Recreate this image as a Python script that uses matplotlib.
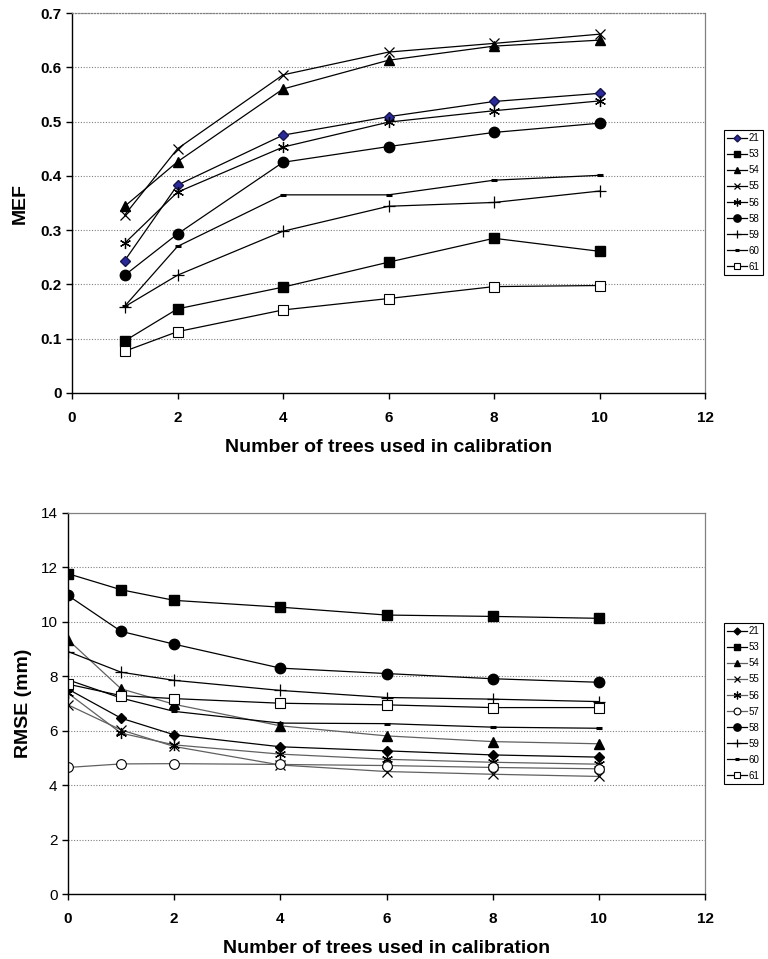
import matplotlib
matplotlib.use('Agg')
import matplotlib.pyplot as plt

plt.rcParams['font.family'] = ['Liberation Sans', 'DejaVu Sans']

# ---- data ------------------------------------------------------------------
trees_mef = [1, 2, 4, 6, 8, 10]
trees_rmse = [0, 1, 2, 4, 6, 8, 10]

mef_labels = ['21', '53', '54', '55', '56', '58', '59', '60', '61']
mef_21 = [0.244, 0.383, 0.475, 0.509, 0.537, 0.552]
mef_53 = [0.096, 0.155, 0.195, 0.241, 0.285, 0.261]
mef_54 = [0.344, 0.426, 0.560, 0.613, 0.639, 0.650]
mef_55 = [0.328, 0.450, 0.586, 0.628, 0.644, 0.661]
mef_56 = [0.276, 0.370, 0.453, 0.499, 0.520, 0.538]
mef_58 = [0.217, 0.293, 0.425, 0.454, 0.480, 0.497]
mef_59 = [0.159, 0.217, 0.298, 0.344, 0.351, 0.372]
mef_60 = [0.160, 0.270, 0.365, 0.365, 0.392, 0.401]
mef_61 = [0.077, 0.113, 0.153, 0.174, 0.196, 0.198]

rmse_labels = ['21', '53', '54', '55', '56', '57', '58', '59', '60', '61']
rmse_21 = [7.53, 6.46, 5.85, 5.41, 5.26, 5.11, 5.03]
rmse_53 = [11.77, 11.18, 10.79, 10.54, 10.25, 10.20, 10.13]
rmse_54 = [9.34, 7.54, 6.97, 6.18, 5.81, 5.60, 5.52]
rmse_55 = [6.95, 6.03, 5.42, 4.74, 4.50, 4.40, 4.32]
rmse_56 = [7.38, 5.91, 5.48, 5.14, 4.95, 4.84, 4.77]
rmse_57 = [4.65, 4.78, 4.79, 4.76, 4.72, 4.65, 4.60]
rmse_58 = [10.97, 9.65, 9.18, 8.30, 8.10, 7.91, 7.78]
rmse_59 = [8.91, 8.15, 7.85, 7.48, 7.22, 7.16, 7.07]
rmse_60 = [7.87, 7.20, 6.71, 6.28, 6.26, 6.13, 6.09]
rmse_61 = [7.71, 7.29, 7.18, 7.01, 6.95, 6.85, 6.85]

mef_series = [mef_21, mef_53, mef_54, mef_55, mef_56, mef_58, mef_59, mef_60, mef_61]
rmse_series = [rmse_21, rmse_53, rmse_54, rmse_55, rmse_56, rmse_57, rmse_58,
               rmse_59, rmse_60, rmse_61]

# marker styles per plot number
STYLE = {
    '21': dict(marker='D', ms=5, mfc='k', mec='k'),
    '53': dict(marker='s', ms=7, mfc='k', mec='k'),
    '54': dict(marker='^', ms=7, mfc='k', mec='k'),
    '55': dict(marker='x', ms=7, mfc='k', mec='k', mew=0.9),
    '56': dict(marker=(6, 2, 0), ms=8, mfc='k', mec='k', mew=0.9),
    '57': dict(marker='o', ms=7, mfc='white', mec='k', mew=0.8),
    '58': dict(marker='o', ms=7.5, mfc='k', mec='k'),
    '59': dict(marker='+', ms=8, mfc='k', mec='k', mew=0.9),
    '60': dict(marker='_', ms=4, mfc='k', mec='k', mew=2.2),
    '61': dict(marker='s', ms=7, mfc='white', mec='k', mew=0.8),
}
GRAY_LINES = {'54', '55', '56', '57'}

fig = plt.figure(figsize=(7.68, 9.59), dpi=100)
ax1 = fig.add_axes([72 / 768, 1 - 393 / 959, 633 / 768, 380 / 959])
ax2 = fig.add_axes([68 / 768, 1 - 894 / 959, 637 / 768, 381 / 959])


def style_axes(ax, bold_y):
    ax.set_xlim(0, 12)
    ax.set_xticks(range(0, 13, 2))
    ax.grid(axis='y', color='#808080', linestyle=(0, (1, 1.5)), lw=0.8)
    ax.set_axisbelow(True)
    for s in ('top', 'right'):
        ax.spines[s].set_color('#808080')
        ax.spines[s].set_linewidth(0.9)
    for s in ('left', 'bottom'):
        ax.spines[s].set_color('k')
        ax.spines[s].set_linewidth(1.0)
    ax.tick_params(direction='out', length=4, width=1.0, color='k')
    ax.tick_params(axis='x', pad=9)
    for lab in ax.get_xticklabels():
        lab.set_fontweight('bold')
        lab.set_fontsize(11)
    for lab in ax.get_yticklabels():
        lab.set_fontweight('bold' if bold_y else 'normal')
        lab.set_fontsize(11)
    ax.set_xlabel('Number of trees used in calibration', fontsize=14,
                  fontweight='bold', labelpad=10)


# ---- (top) MEF --------------------------------------------------------------
for lab, ys in zip(mef_labels, mef_series):
    st = dict(STYLE[lab])
    if lab == '21':
        st.update(mfc='#2a2a9a', mec='#15154a')
    ax1.plot(trees_mef, ys, color='k', lw=0.9, label=lab, **st)
ax1.set_ylim(0, 0.7)
ax1.set_yticks([0, 0.1, 0.2, 0.3, 0.4, 0.5, 0.6, 0.7])
ax1.set_yticklabels(['0', '0.1', '0.2', '0.3', '0.4', '0.5', '0.6', '0.7'])
style_axes(ax1, bold_y=True)
ax1.spines['top'].set_linestyle((0, (1, 1.5)))
ax1.set_ylabel('MEF', fontsize=14, fontweight='bold')
ax1.yaxis.set_label_coords(-0.069, 0.5)

# ---- (bottom) RMSE ----------------------------------------------------------
for lab, ys in zip(rmse_labels, rmse_series):
    col = '#606060' if lab in GRAY_LINES else 'k'
    ax2.plot(trees_rmse, ys, color=col, lw=0.9, label=lab, **STYLE[lab])
ax2.set_ylim(0, 14)
ax2.set_yticks(range(0, 15, 2))
style_axes(ax2, bold_y=False)
ax2.set_ylabel('RMSE (mm)', fontsize=14, fontweight='bold')
ax2.yaxis.set_label_coords(-0.057, 0.5)

leg_kw = dict(loc='upper left', fontsize=7, frameon=True, fancybox=False,
              edgecolor='k', framealpha=1, handlelength=2.0, handletextpad=0.2,
              labelspacing=0.62, borderpad=0.35, borderaxespad=0,
              markerscale=0.7)
for ax, top in ((ax1, 130), (ax2, 623)):
    leg = ax.legend(bbox_to_anchor=(724 / 768, 1 - top / 959),
                    bbox_transform=fig.transFigure, **leg_kw)
    leg.get_frame().set_linewidth(0.8)

fig.savefig('out.png', dpi=100)
